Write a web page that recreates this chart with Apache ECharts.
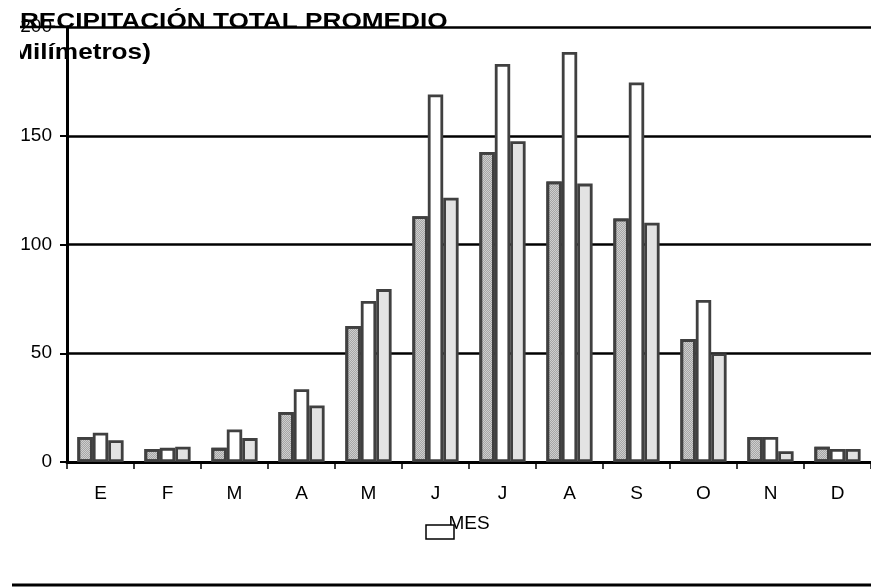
<!DOCTYPE html>
<html>
<head>
<meta charset="utf-8">
<script src="https://cdn.jsdelivr.net/npm/echarts@6/dist/echarts.min.js"></script>
<style>
  html, body { margin: 0; padding: 0; background: #fff; }
  #chart { width: 871px; height: 587px; }
</style>
</head>
<body>
<div id="chart"></div>
<script>
// Monthly average precipitation (mm), three stations per month
const months = ['E', 'F', 'M', 'A', 'M', 'J', 'J', 'A', 'S', 'O', 'N', 'D'];
const serieA = [11.5, 6, 6.5, 23, 62.5, 113, 142.5, 129, 112, 56.5, 11.5, 7];
const serieB = [13.5, 6.5, 15, 33.5, 74, 169, 183, 188.5, 174.5, 74.5, 11.5, 6];
const serieC = [10, 7, 11, 26, 79.5, 121.5, 147.5, 128, 110, 50, 5, 6];
const yTicks = [0, 50, 100, 150, 200];
const titleLines = ['PRECIPITACIÓN TOTAL PROMEDIO', '(Milímetros)'];
const axisName = 'MES';

const FONT = "'Liberation Sans', Arial, sans-serif";
const chart = echarts.init(document.getElementById('chart'), null, { renderer: 'canvas' });

const border = { borderColor: '#404040', borderWidth: 2.8 };

chart.setOption({
  animation: false,
  backgroundColor: '#fff',
  grid: { left: 67, right: 0, top: 27, bottom: 125, containLabel: false },
  xAxis: {
    type: 'category',
    data: months,
    name: axisName,
    nameLocation: 'middle',
    nameGap: 52,
    nameTextStyle: { fontFamily: FONT, fontSize: 19, color: '#000' },
    axisLine: { lineStyle: { color: '#000', width: 3 } },
    axisTick: { show: true, length: 7, lineStyle: { color: '#000', width: 1.5 } },
    axisLabel: { fontFamily: FONT, fontSize: 19, color: '#000', margin: 22 },
    splitLine: { show: false }
  },
  yAxis: {
    type: 'value',
    min: yTicks[0],
    max: yTicks[yTicks.length - 1],
    interval: yTicks[1] - yTicks[0],
    axisLine: { show: true, lineStyle: { color: '#000', width: 3 } },
    axisTick: { show: true, length: 7, lineStyle: { color: '#000', width: 2 } },
    axisLabel: { fontFamily: FONT, fontSize: 19, color: '#000', margin: 15 },
    splitLine: { show: true, lineStyle: { color: '#000', width: 2.5 } }
  },
  series: [
    {
      name: 'Serie A', type: 'bar', data: serieA,
      barGap: '0%', barCategoryGap: '31%',
      itemStyle: Object.assign({
        color: '#cfcfcf',
        decal: {
          symbol: 'rect', symbolSize: 1,
          dashArrayX: [[1, 1], [0, 1, 1, 0]], dashArrayY: [1, 0],
          color: 'rgba(90,90,90,0.35)'
        }
      }, border)
    },
    {
      name: 'Serie B', type: 'bar', data: serieB,
      barGap: '0%', barCategoryGap: '31%',
      itemStyle: Object.assign({ color: '#ffffff' }, border)
    },
    {
      name: 'Serie C', type: 'bar', data: serieC,
      barGap: '0%', barCategoryGap: '31%',
      itemStyle: Object.assign({ color: '#e3e3e3' }, border)
    }
  ]
});

// Top rule extends past the axis to the left, title and legend box drawn on top
const topY = chart.convertToPixel({ yAxisIndex: 0 }, yTicks[yTicks.length - 1]);
chart.setOption({
  graphic: [
    {
      type: 'line', z: 50,
      shape: { x1: 20, y1: topY, x2: 67, y2: topY },
      style: { stroke: '#000', lineWidth: 2.5 }
    },
    {
      type: 'text', z: 100, x: 2.5, y: 21.5, scaleX: 1.19,
      style: { text: titleLines[0], font: 'bold 22px ' + FONT, fill: '#000', verticalAlign: 'middle' }
    },
    {
      type: 'text', z: 100, x: 2.5, y: 52.5, scaleX: 1.19,
      style: { text: titleLines[1], font: 'bold 22px ' + FONT, fill: '#000', verticalAlign: 'middle' }
    },
    {
      type: 'rect', z: 110,
      shape: { x: 0, y: 0, width: 20, height: 70 },
      style: { fill: '#fff' }
    },
    {
      type: 'rect', z: 100,
      shape: { x: 426, y: 525, width: 28, height: 14 },
      style: { fill: '#fff', stroke: '#000', lineWidth: 1.5 }
    },
    {
      type: 'line', z: 100,
      shape: { x1: 12, y1: 585, x2: 871, y2: 585 },
      style: { stroke: '#000', lineWidth: 3 }
    }
  ]
});
</script>
</body>
</html>
